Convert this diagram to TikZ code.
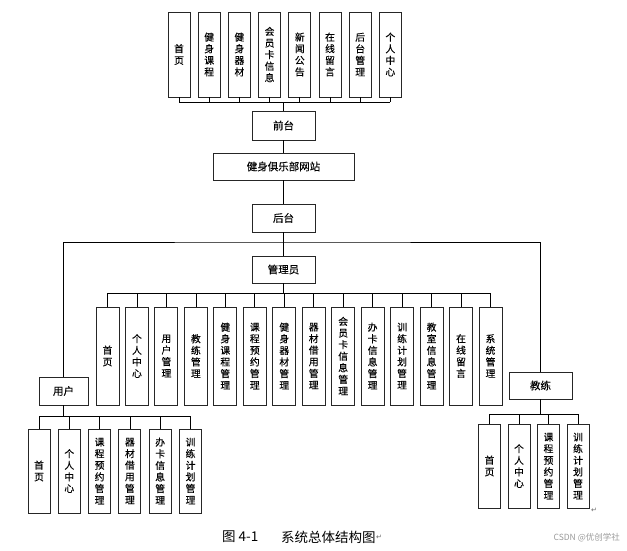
\documentclass[tikz,border=0pt]{standalone}
\usepackage{fontspec}
\newfontfamily\cjk[FakeBold=0.2]{Noto Sans CJK SC}
\newfontfamily\cjkr{Noto Sans CJK SC}
\newfontfamily\dejavu{DejaVu Sans}
\begin{document}
\begin{tikzpicture}[x=1pt,y=-1pt,
  box/.style={draw=black!85, line width=0.9pt, inner sep=0pt, font=\cjk\fontsize{10.5}{12}\selectfont},
  vbox/.style={box, align=center, minimum width=22pt, font=\cjk\fontsize{9.8}{11.6}\selectfont},
  link/.style={line width=0.7pt},
  trunk/.style={line width=1.3pt}]
\useasboundingbox (0,0) rectangle (627,551);
% top row
\foreach \t [count=\i] in {{首\\页},{健\\身\\课\\程},{健\\身\\器\\材},{会\\员\\卡\\信\\息},{新\\闻\\公\\告},{在\\线\\留\\言},{后\\台\\管\\理},{个\\人\\中\\心}}
  \node[vbox, minimum height=85pt] (t\i) at ({179+(\i-1)*30.2},54.5) {\t};
\node[box, minimum width=63pt, minimum height=29pt] (qt) at (283.5,125.5) {前台};
\node[box, minimum width=141pt, minimum height=27pt] (web) at (283.5,166.5) {健身俱乐部网站};
\node[box, minimum width=63pt, minimum height=28pt] (ht) at (283.5,218) {后台};
\node[box, minimum width=63pt, minimum height=27pt] (gly) at (283.5,269.5) {管理员};
\node[box, minimum width=49pt, minimum height=28pt] (yh) at (63.5,391) {用户};
\node[box, minimum width=63pt, minimum height=27pt] (jl) at (540.5,385.5) {教练};
% middle row
\foreach \t [count=\i] in {{首\\页},{个\\人\\中\\心},{用\\户\\管\\理},{教\\练\\管\\理},{健\\身\\课\\程\\管\\理},{课\\程\\预\\约\\管\\理},{健\\身\\器\\材\\管\\理},{器\\材\\借\\用\\管\\理},{会\\员\\卡\\信\\息\\管\\理},{办\\卡\\信\\息\\管\\理},{训\\练\\计\\划\\管\\理},{教\\室\\信\\息\\管\\理},{在\\线\\留\\言},{系\\统\\管\\理}}
  \node[vbox, minimum width=23pt, minimum height=98pt] (m\i) at ({107.5+(\i-1)*29.46},356) {\t};
% user children
\foreach \t [count=\i] in {{首\\页},{个\\人\\中\\心},{课\\程\\预\\约\\管\\理},{器\\材\\借\\用\\管\\理},{办\\卡\\信\\息\\管\\理},{训\\练\\计\\划\\管\\理}}
  \node[vbox, minimum height=84pt] (u\i) at ({39+(\i-1)*30.3},471) {\t};
% coach children
\foreach \t [count=\i] in {{首\\页},{个\\人\\中\\心},{课\\程\\预\\约\\管\\理},{训\\练\\计\\划\\管\\理}}
  \node[vbox, minimum height=84pt] (c\i) at ({489.5+(\i-1)*29.5},466) {\t};
% buses
\coordinate (tb) at (0,102);
\coordinate (hb) at (0,242);
\coordinate (mb) at (0,293);
\coordinate (ub) at (0,416);
\coordinate (cb) at (0,414);
\draw[link] (t1.south |- tb) -- (t8.south |- tb);
\foreach \i in {1,...,8} \draw[link] (t\i.south) -- (t\i.south |- tb);
\draw[trunk] (qt.north) -- (qt.north |- tb);
\draw[link] (qt.south) -- (web.north);
\draw[link] (web.south) -- (ht.north);
\draw[trunk] (ht.south) -- (gly.north);
\draw[link] (yh.north) |- (ht.south |- hb) -| (jl.north);
\draw[link] (m1.north |- mb) -- (m14.north |- mb);
\foreach \i in {1,...,14} \draw[link] (m\i.north) -- (m\i.north |- mb);
\draw[trunk] (gly.south) -- (gly.south |- mb);
\draw[link] (u1.north |- ub) -- (u6.north |- ub);
\foreach \i in {1,...,6} \draw[link] (u\i.north) -- (u\i.north |- ub);
\draw[trunk] (yh.south) -- (yh.south |- ub);
\draw[link] (c1.north |- cb) -- (c4.north |- cb);
\foreach \i in {1,...,4} \draw[link] (c\i.north) -- (c\i.north |- cb);
\draw[trunk] (jl.south) -- (jl.south |- cb);
% caption
\node[anchor=west, inner sep=0pt, font=\cjkr\fontsize{13.5}{15}\selectfont] (cap1) at (222,537) {图 4-1};
\node[anchor=west, inner sep=0pt, font=\cjkr\fontsize{13.5}{15}\selectfont] (cap2) at (281,537) {系统总体结构图};
\node[anchor=west, inner sep=0pt, font=\dejavu\fontsize{7}{8}\selectfont, text=black!60] (ret1) at (cap2.east) {↵};
\node[anchor=center, inner sep=0pt, font=\dejavu\fontsize{7}{8}\selectfont, text=black!60] (ret2) at (594,510) {↵};
\node[anchor=east, inner sep=0pt, font=\cjkr\fontsize{8.5}{10}\selectfont, text=black!40] (wm) at (620,538) {CSDN @优创学社};
\end{tikzpicture}
\end{document}
